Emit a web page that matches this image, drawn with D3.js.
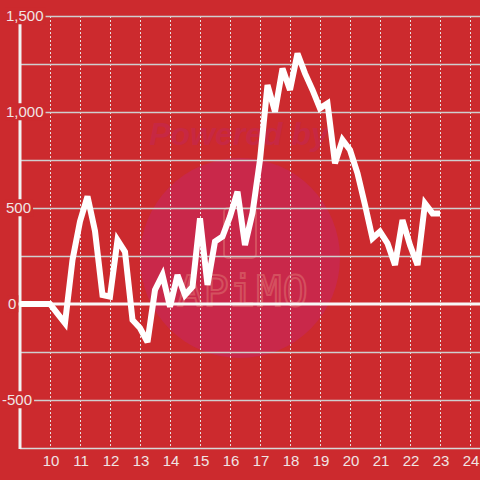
<!DOCTYPE html>
<html><head><meta charset="utf-8">
<script src="https://cdn.jsdelivr.net/npm/d3@7"></script>
<style>html,body{margin:0;padding:0;background:#cc2a2e;}svg{display:block;}</style>
</head><body>
<svg id="chart" width="480" height="480"></svg>
<script>
const hours = [9,9.25,9.5,9.75,10,10.25,10.5,10.75,11,11.25,11.5,11.75,12,12.25,12.5,12.75,13,13.25,13.5,13.75,14,14.25,14.5,14.75,15,15.25,15.5,15.75,16,16.25,16.5,16.75,17,17.25,17.5,17.75,18,18.25,18.5,18.75,19,19.25,19.5,19.75,20,20.25,20.5,20.75,21,21.25,21.5,21.75,22,22.25,22.5,22.75,23];
const values = [0,0,0,0,0,-50,-100,230,430,560,380,47,38,333,272,-83,-125,-198,73,151,-14,151,47,90,446,99,325,351,455,585,307,474,750,1140,1002,1227,1115,1305,1201,1115,1019,1045,733,854,802,681,516,342,377,316,203,437,307,203,524,472,472];
const xTicks = [10,11,12,13,14,15,16,17,18,19,20,21,22,23,24];
const yLabelTicks = [-500,0,500,1000,1500];
const yGridTicks = [-500,-250,0,250,500,750,1000,1250,1500];

const svg = d3.select("#chart");
const W = 480, H = 480;
const x = d3.scaleLinear().domain([9, 24.3333]).range([20, 480]);
const y = d3.scaleLinear().domain([-750, 1500]).range([448, 16]);
const bg = "#cc2a2e";
svg.append("rect").attr("width", W).attr("height", H).attr("fill", bg);

// watermark
svg.append("circle").attr("cx", 240).attr("cy", 258).attr("r", 100).attr("fill", "#c9284a");
svg.append("text").attr("x", 239).attr("y", 145).attr("text-anchor", "middle")
  .attr("font-family", "Liberation Sans, Arial, sans-serif").attr("font-weight", "bold")
  .attr("font-style", "italic").attr("font-size", 32).attr("fill", "#c72843").text("Powered by");
svg.append("rect").attr("x", 224).attr("y", 208).attr("width", 32).attr("height", 50).attr("rx", 4)
  .attr("fill", "none").attr("stroke", "#d4505f").attr("stroke-width", 2);
svg.append("text").attr("x", 243).attr("y", 306).attr("text-anchor", "middle")
  .attr("font-family", "DejaVu Sans Mono, monospace").attr("font-size", 42).attr("letter-spacing", 1)
  .attr("fill", "none").attr("stroke", "#d4505f").attr("stroke-width", 2).text("APiMO");

// vertical dotted gridlines
svg.append("g").selectAll("line").data(xTicks).join("line")
  .attr("x1", d => Math.round(x(d)) + 0.5).attr("x2", d => Math.round(x(d)) + 0.5)
  .attr("y1", y(1500)).attr("y2", y(-750))
  .attr("stroke", "#e8e0e0").attr("stroke-width", 1).attr("stroke-dasharray", "2,2");

// horizontal gridlines
svg.append("g").selectAll("line").data(yGridTicks.filter(d => d !== 0)).join("line")
  .attr("x1", 21).attr("x2", W)
  .attr("y1", d => Math.round(y(d)) + 0.5).attr("y2", d => Math.round(y(d)) + 0.5)
  .attr("stroke", "#cfcfcf").attr("stroke-width", 1.3);

// x axis line
svg.append("line").attr("x1", 20).attr("x2", W).attr("y1", y(-750) + 0.5).attr("y2", y(-750) + 0.5)
  .attr("stroke", "#d8d8d8").attr("stroke-width", 1.3);

// y axis line
svg.append("line").attr("x1", 20).attr("x2", 20).attr("y1", y(1500)).attr("y2", y(-750) + 1)
  .attr("stroke", "#f2f2f2").attr("stroke-width", 3);

// zero line
svg.append("line").attr("x1", 17).attr("x2", W).attr("y1", y(0)).attr("y2", y(0))
  .attr("stroke", "#f7f7f7").attr("stroke-width", 3);

// y labels with background
const fmt = d3.format(",");
const yl = svg.append("g").selectAll("g").data(yLabelTicks).join("g");
yl.append("text")
  .attr("x", d => d < 0 ? 2 : (d === 0 ? 8 : 6))
  .attr("y", d => y(d)).attr("dy", "0.35em")
  .attr("font-family", "Liberation Sans, Arial, sans-serif").attr("font-size", 15)
  .attr("fill", "#f0e4e4").text(d => fmt(d).replace("\u2212", "-"))
  .each(function() {
    const b = this.getBBox();
    d3.select(this.parentNode).insert("rect", "text")
      .attr("x", b.x - 1).attr("y", b.y).attr("width", b.width + 3).attr("height", b.height)
      .attr("fill", bg);
  });

// x labels
svg.append("g").selectAll("text").data(xTicks).join("text")
  .attr("x", d => x(d) + 1).attr("y", 466).attr("text-anchor", "middle")
  .attr("font-family", "Liberation Sans, Arial, sans-serif").attr("font-size", 15)
  .attr("fill", "#f0e4e4").text(d => d);

// data line
const pts = hours.map((h, i) => [h, values[i]]);
svg.append("path").datum(pts)
  .attr("d", d3.line().x(d => x(d[0])).y(d => y(d[1])))
  .attr("fill", "none").attr("stroke", "#ffffff").attr("stroke-width", 6)
  .attr("stroke-linejoin", "miter").attr("stroke-miterlimit", 3);
</script>
</body></html>
